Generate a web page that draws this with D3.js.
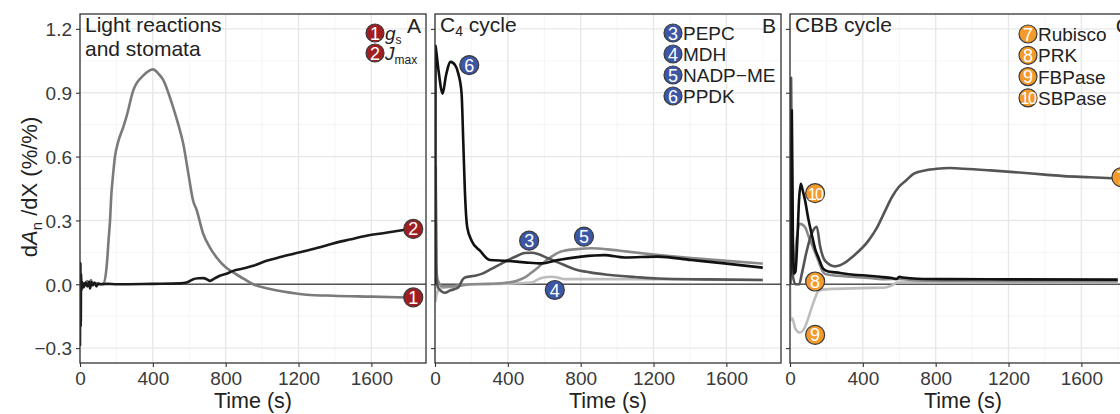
<!DOCTYPE html>
<html>
<head>
<meta charset="utf-8">
<script src="https://cdn.jsdelivr.net/npm/d3@7"></script>
<style>
  body { margin: 0; background: #fff; }
  svg { font-family: "Liberation Sans", Arial, sans-serif; }
</style>
</head>
<body>
<div id="chart"></div>
<script>
// ---- data: [time (s), dAn/dX] ----
const gsPts = [[0,0],[10,0.01],[20,-0.01],[40,0.015],[50,-0.005],[60,0.02],[70,0],[90,0.005],[110,0],[130,0.005],[146,0.08],[158,0.22],[165,0.3],[172,0.42],[180,0.5],[192,0.6],[210,0.67],[238,0.74],[256,0.79],[292,0.91],[347,0.98],[402,1.01],[430,0.99],[457,0.96],[485,0.9],[512,0.83],[540,0.75],[567,0.66],[595,0.52],[622,0.39],[640,0.35],[677,0.236],[712,0.175],[750,0.126],[800,0.08],[841,0.056],[900,0.025],[951,0],[1030,-0.02],[1115,-0.034],[1244,-0.049],[1390,-0.054],[1600,-0.058],[1800,-0.062]];
const jmaxPts = [[0,-0.29],[2,0.1],[4,-0.2],[6,0.05],[8,-0.03],[12,0.01],[20,-0.015],[30,0.008],[40,-0.01],[50,0.012],[55,-0.02],[62,0.01],[70,-0.005],[80,0.008],[90,-0.01],[100,0.003],[120,0],[150,0.002],[200,0],[400,0.002],[550,0.004],[585,0.008],[622,0.024],[650,0.028],[677,0.029],[700,0.022],[713,0.016],[740,0.028],[768,0.04],[800,0.048],[841,0.063],[900,0.075],[951,0.087],[1024,0.11],[1100,0.128],[1207,0.15],[1300,0.17],[1390,0.192],[1480,0.21],[1573,0.228],[1680,0.242],[1800,0.258]];

const pepcPts = [[0,0],[3,0.55],[8,0.02],[20,-0.02],[55,-0.04],[80,-0.03],[128,-0.015],[150,0.02],[164,0.032],[219,0.04],[260,0.05],[310,0.072],[360,0.095],[402,0.114],[450,0.133],[493,0.147],[530,0.148],[566,0.142],[620,0.122],[675,0.103],[767,0.071],[850,0.056],[950,0.045],[1100,0.034],[1224,0.027],[1500,0.023],[1800,0.02]];
const mdhPts = [[0,0],[3,-0.08],[8,-0.05],[30,-0.02],[100,-0.01],[200,0],[400,0.003],[530,0.008],[560,0.02],[585,0.029],[640,0.035],[680,0.03],[712,0.024],[900,0.024],[1041,0.024],[1400,0.022],[1800,0.02]];
const nadpPts = [[0,0],[2,1.12],[6,0.1],[15,0.02],[40,-0.01],[100,-0.01],[200,0],[300,0.002],[402,0.008],[450,0.017],[493,0.032],[530,0.055],[566,0.079],[600,0.105],[640,0.13],[680,0.15],[712,0.158],[780,0.165],[859,0.169],[950,0.164],[1041,0.155],[1200,0.14],[1407,0.123],[1600,0.11],[1800,0.097]];
const ppdkPts = [[0,0],[3,1.12],[5,1.108],[20,1.0],[42,0.896],[60,0.98],[86,1.045],[110,1.03],[128,0.99],[146,0.896],[155,0.676],[164,0.44],[177,0.268],[201,0.205],[247,0.158],[301,0.114],[393,0.11],[493,0.103],[585,0.098],[675,0.114],[804,0.13],[932,0.137],[1041,0.126],[1224,0.13],[1407,0.114],[1589,0.098],[1800,0.078]];

const rubiscoPts = [[0,0],[6,0.97],[14,0.05],[30,0],[50,0],[65,0.05],[90,0.15],[120,0.24],[147,0.27],[165,0.18],[193,0.11],[248,0.084],[300,0.1],[339,0.126],[431,0.205],[480,0.27],[523,0.346],[560,0.41],[596,0.456],[640,0.49],[678,0.519],[740,0.535],[807,0.543],[880,0.546],[954,0.543],[1100,0.535],[1229,0.527],[1400,0.515],[1504,0.508],[1650,0.503],[1800,0.497]];
const prkPts = [[0,0],[4,0.1],[8,0.05],[20,0.05],[35,0.2],[55,0.284],[83,0.268],[100,0.23],[119,0.19],[156,0.11],[180,0.06],[193,0.048],[260,0.04],[339,0.035],[450,0.028],[523,0.024],[600,0.025],[700,0.018],[1000,0.015],[1800,0.014]];
const fbpasePts = [[0,0],[2,-0.17],[12,-0.16],[30,-0.21],[55,-0.227],[83,-0.2],[100,-0.16],[119,-0.11],[140,-0.06],[156,-0.03],[211,-0.023],[400,-0.018],[523,-0.015],[560,-0.005],[590,0.008],[700,0.01],[1800,0.01]];
const sbpasePts = [[0,0],[5,0.2],[10,0.817],[16,0.2],[22,0.05],[30,0.06],[40,0.2],[50,0.4],[59,0.472],[70,0.44],[83,0.393],[100,0.31],[119,0.236],[140,0.16],[156,0.126],[183,0.072],[210,0.06],[248,0.056],[350,0.045],[431,0.04],[495,0.035],[560,0.029],[585,0.025],[600,0.035],[620,0.032],[700,0.026],[862,0.024],[1200,0.023],[1800,0.022]];

const xTicks = [0, 400, 800, 1200, 1600];
const yTicks = [-0.3, 0, 0.3, 0.6, 0.9, 1.2];

// panels: series, direct markers and legend
const panels = [
  { tag: 'A', title: ['Light reactions', 'and stomata'], fill: '#a01e22',
    series: [
      { pts: gsPts, color: '#7a7a7a', num: 1, mark: [1830, -0.062] },
      { pts: jmaxPts, color: '#1a1a1a', num: 2, mark: [1830, 0.26] }
    ],
    legend: [[1, 'g', 's'], [2, 'J', 'max']] },
  { tag: 'B', title: ['C4 cycle'], fill: '#3b57a6',
    series: [
      { pts: mdhPts, color: '#bdbdbd', num: 4, mark: [658, -0.027] },
      { pts: nadpPts, color: '#8a8a8a', num: 5, mark: [818, 0.224] },
      { pts: pepcPts, color: '#555555', num: 3, mark: [517, 0.205] },
      { pts: ppdkPts, color: '#111111', num: 6, mark: [188, 1.03] }
    ],
    legend: [[3, 'PEPC'], [4, 'MDH'], [5, 'NADP\u2212ME'], [6, 'PPDK']] },
  { tag: 'C', title: ['CBB cycle'], fill: '#f39a2c',
    series: [
      { pts: fbpasePts, color: '#bdbdbd', num: 9, mark: [138, -0.238] },
      { pts: prkPts, color: '#8a8a8a', num: 8, mark: [138, 0.013] },
      { pts: rubiscoPts, color: '#555555', num: 7, mark: [1820, 0.503] },
      { pts: sbpasePts, color: '#111111', num: 10, mark: [138, 0.428] }
    ],
    legend: [[7, 'Rubisco'], [8, 'PRK'], [9, 'FBPase'], [10, 'SBPase']] }
];

const W = 1120, H = 414;
const pw = 346, pTop = 14, pBottom = 363;
const lefts = [80, 435, 790];

const svg = d3.select('#chart').append('svg')
  .attr('width', W).attr('height', H);

const y = d3.scaleLinear().domain([-0.37, 1.27]).range([pBottom, pTop]);
const line = (x) => d3.line().x(d => x(d[0])).y(d => y(d[1])).curve(d3.curveMonotoneX);

// circled number used both on the lines and in the legends
const badge = (g, cx, cy, n, fill, r) => {
  g.append('circle').attr('cx', cx).attr('cy', cy).attr('r', r)
    .attr('fill', fill).attr('stroke', '#3a3a3a').attr('stroke-width', 1.2);
  g.append('text').attr('x', cx).attr('y', cy + 6.5)
    .attr('text-anchor', 'middle').attr('fill', '#fff')
    .attr('font-size', n > 9 ? 16 : 18).attr('letter-spacing', n > 9 ? -1.5 : 0)
    .text(n);
};

panels.forEach((p, i) => {
  const left = lefts[i];
  const x = d3.scaleLinear().domain([0, 1900]).range([left, left + pw]);
  const g = svg.append('g');

  g.append('clipPath').attr('id', 'clip' + i)
    .append('rect').attr('x', left).attr('y', pTop).attr('width', pw).attr('height', pBottom - pTop);

  // grid: minor then major
  const minorX = d3.range(200, 1900, 400);
  const minorY = d3.range(-0.15, 1.27, 0.3);
  g.selectAll('.mx').data(minorX).join('line')
    .attr('x1', d => x(d)).attr('x2', d => x(d)).attr('y1', pTop).attr('y2', pBottom)
    .attr('stroke', '#f2f2f2').attr('stroke-width', 0.8);
  g.selectAll('.my').data(minorY).join('line')
    .attr('x1', left).attr('x2', left + pw).attr('y1', d => y(d)).attr('y2', d => y(d))
    .attr('stroke', '#f2f2f2').attr('stroke-width', 0.8);
  g.selectAll('.gx').data(xTicks).join('line')
    .attr('x1', d => x(d)).attr('x2', d => x(d)).attr('y1', pTop).attr('y2', pBottom)
    .attr('stroke', '#e8e8e8').attr('stroke-width', 1.4);
  g.selectAll('.gy').data(yTicks).join('line')
    .attr('x1', left).attr('x2', left + pw).attr('y1', d => y(d)).attr('y2', d => y(d))
    .attr('stroke', '#e8e8e8').attr('stroke-width', 1.4);

  // zero line
  g.append('line').attr('x1', left).attr('x2', left + pw)
    .attr('y1', y(0)).attr('y2', y(0))
    .attr('stroke', '#555').attr('stroke-width', 1.6);

  // series
  const lg = g.append('g').attr('clip-path', `url(#clip${i})`);
  p.series.forEach(s => {
    lg.append('path').datum(s.pts)
      .attr('d', line(x))
      .attr('fill', 'none').attr('stroke', s.color)
      .attr('stroke-width', 2.6).attr('stroke-linejoin', 'round');
  });

  // border
  g.append('rect').attr('x', left).attr('y', pTop).attr('width', pw).attr('height', pBottom - pTop)
    .attr('fill', 'none').attr('stroke', '#333').attr('stroke-width', 1.3);

  // axes
  const xa = g.append('g').attr('transform', `translate(0,${pBottom})`)
    .call(d3.axisBottom(x).tickValues(xTicks).tickSize(4).tickPadding(3).tickFormat(d3.format('d')));
  const ya = g.append('g').attr('transform', `translate(${left},0)`)
    .call(d3.axisLeft(y).tickValues(yTicks).tickSize(4).tickPadding(4)
      .tickFormat(i === 0 ? (d => d3.format('.1f')(d).replace('-', '\u2212')) : () => ''));
  [xa, ya].forEach(a => {
    a.select('.domain').remove();
    a.selectAll('line').attr('stroke', '#333').attr('stroke-width', 1.1);
    a.selectAll('text').attr('fill', '#3a3a3a').attr('font-size', 19)
      .attr('font-family', '"Liberation Sans", Arial, sans-serif');
  });
  xa.selectAll('text').attr('dy', '0.8em');
  ya.selectAll('text').attr('dy', '0.36em');

  g.append('text').attr('x', left + pw / 2).attr('y', 408)
    .attr('text-anchor', 'middle').attr('font-size', 21.5).attr('fill', '#222')
    .text('Time (s)');

  // title
  p.title.forEach((t, k) => {
    const tx = g.append('text').attr('x', left + 5).attr('y', 32 + k * 24)
      .attr('font-size', 21).attr('fill', '#222');
    if (t === 'C4 cycle') {
      tx.append('tspan').text('C');
      tx.append('tspan').attr('font-size', 14).attr('dy', 4).text('4');
      tx.append('tspan').attr('dy', -4).text(' cycle');
    } else {
      tx.text(t);
    }
  });

  // panel tag
  g.append('text').attr('x', left + pw - 5).attr('y', 33)
    .attr('text-anchor', 'end').attr('font-size', 21).attr('fill', '#222').text(p.tag);

  // markers at line ends / peaks
  p.series.forEach(s => badge(g, x(s.mark[0]), y(s.mark[1]), s.num, p.fill, 9.5));

  // legend
  const lx = [375, 673, 1028][i];
  const ly = [33, 33, 34][i];
  const step = [20, 21, 21.3][i];
  p.legend.forEach((e, k) => {
    const cy = ly + k * step;
    badge(g, lx, cy, e[0], p.fill, 9);
    const t = g.append('text').attr('x', lx + 10).attr('y', cy + 7)
      .attr('font-size', 19).attr('fill', '#222');
    if (e.length === 3) {
      t.append('tspan').attr('font-style', 'italic').text(e[1]);
      t.append('tspan').attr('font-size', 12).attr('dy', 4).text(e[2]);
    } else {
      t.text(e[1]);
    }
  });
});

// y axis title
const yt = svg.append('text')
  .attr('transform', 'translate(37,187) rotate(-90)')
  .attr('text-anchor', 'middle').attr('font-size', 22).attr('fill', '#222');
yt.append('tspan').text('d');
yt.append('tspan').attr('font-style', 'italic').text('A');
yt.append('tspan').attr('font-size', 15).attr('dy', 5).text('n');
yt.append('tspan').attr('dy', -5).text(' /dX (%/%)');
</script>
</body>
</html>
